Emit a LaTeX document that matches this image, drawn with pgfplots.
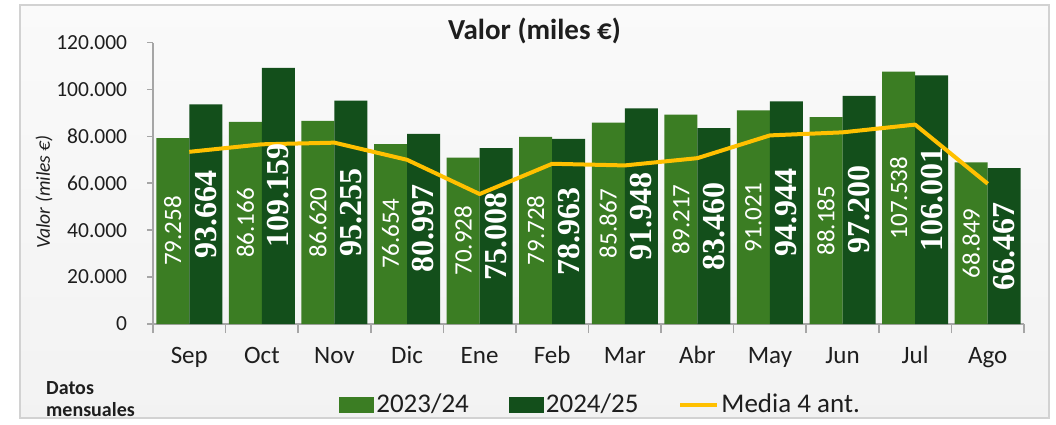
\documentclass[border=0pt]{standalone}
\usepackage{pgfplots}
\pgfplotsset{compat=1.18}
\usepackage{pgfplotstable}
\usepackage{fontspec}
\setmainfont{Carlito}
\newfontfamily\labserif{Liberation Serif}
\definecolor{lightg}{HTML}{3B7D23}
\definecolor{darkg}{HTML}{134F1B}
\definecolor{gold}{HTML}{FFC000}
\definecolor{axgray}{HTML}{A6A6A6}
\definecolor{txt}{HTML}{1E1E1E}

\pgfplotstableread{
x a b m la lb
0 79258 93664 73400 79.258 93.664
1 86166 109159 76600 86.166 109.159
2 86620 95255 77300 86.620 95.255
3 76654 80997 70000 76.654 80.997
4 70928 75008 55400 70.928 75.008
5 79728 78963 68300 79.728 78.963
6 85867 91948 67600 85.867 91.948
7 89217 83460 70700 89.217 83.460
8 91021 94944 80400 91.021 94.944
9 88185 97200 81700 88.185 97.200
10 107538 106001 85000 107.538 106.001
11 68849 66467 59800 68.849 66.467
}\data

\begin{document}
\begin{tikzpicture}
\fill[white] (0,0) rectangle (528pt,212pt);
\shade[top color=white!96!gray, bottom color=white!90!gray] (10pt,3pt) rectangle (524.5pt,209.5pt);
\draw[gray!35, line width=0.8pt] (10pt,3pt) rectangle (524.5pt,209.5pt);

\begin{axis}[
  at={(76.5pt,50pt)}, anchor=south west,
  scale only axis, width=435.5pt, height=140.75pt,
  xmin=-0.5, xmax=11.5, ymin=0, ymax=120000,
  axis lines=left,
  axis line style={-, draw=axgray, line width=0.9pt},
  tick align=outside,
  major tick length=4.5pt,
  tick style={draw=axgray, line width=0.8pt},
  xtick={-0.5,0.5,...,11.5},
  xticklabels={},
  extra x ticks={0,1,...,11},
  extra x tick labels={Sep,Oct,Nov,Dic,Ene,Feb,Mar,Abr,May,Jun,Jul,Ago},
  extra x tick style={major tick length=0pt, tick style={draw=none},
    xticklabel style={anchor=base, yshift=-19.5pt, font=\fontsize{12.5}{15}\selectfont, text=txt}},
  scaled y ticks=false,
  ytick=\empty,
  extra y ticks={0,20000,40000,60000,80000,100000,120000},
  extra y tick labels={0,20.000,40.000,60.000,80.000,100.000,120.000},
  extra y tick style={major tick length=3pt,
    yticklabel style={anchor=east, xshift=-6.4pt, font=\fontsize{10.75}{13}\selectfont, text=txt}},
  clip=false,
  legend style={at={(0.2135,-0.288)}, anchor=west, draw=none, fill=none, inner sep=0pt,
    font=\fontsize{13.5}{16}\selectfont, text=txt, legend columns=3,
    nodes={inner sep=1pt},
    /tikz/every even column/.append style={column sep=19pt}},
  legend cell align=left,
]
\addplot[ybar, bar width=0.455, bar shift=-0.2275, fill=lightg, draw=none,
  legend image code/.code={\fill[lightg] (0pt,-4pt) rectangle (17.5pt,4pt);}]
  table[x=x, y=a] {\data};
\addlegendentry{2023/24}
\addplot[ybar, bar width=0.455, bar shift=0.2275, fill=darkg, draw=none,
  legend image code/.code={\fill[darkg] (0pt,-4pt) rectangle (17.5pt,4pt);}]
  table[x=x, y=b] {\data};
\addlegendentry{2024/25}
\addplot[gold, line width=2pt, line join=round, mark=none,
  legend image code/.code={\draw[gold, line width=2pt] (0pt,0pt) -- (18.5pt,0pt);}]
  table[x=x, y=m] {\data};
\addlegendentry{Media 4 ant.}

\addplot[forget plot, draw=none, mark=none, nodes near coords, point meta=explicit symbolic,
  every node near coord/.append style={anchor=center, rotate=90, text=white,
    font=\fontsize{12.5}{14}\selectfont, inner sep=0pt}]
  table[x expr=\thisrow{x}-0.2275, y expr=\thisrow{a}/2, meta=la] {\data};
\addplot[forget plot, draw=none, mark=none, nodes near coords, point meta=explicit symbolic,
  every node near coord/.append style={anchor=center, rotate=90, text=white,
    font=\labserif\bfseries\fontsize{16}{18}\selectfont, inner sep=0pt}]
  table[x expr=\thisrow{x}+0.2275, y expr=\thisrow{b}/2, meta=lb] {\data};
\end{axis}

\node[anchor=base, font=\bfseries\fontsize{14.5}{17}\selectfont, text=txt, inner sep=0pt] at (267.25pt,192pt) {Valor (miles €)};
\node[rotate=90, font=\itshape\fontsize{9.8}{12}\selectfont, text=txt, inner sep=0pt] at (22pt,116pt) {Valor (miles €)};
\node[anchor=base west, font=\bfseries\fontsize{10}{12}\selectfont, text=txt, inner sep=0pt] at (22.9pt,15pt) {Datos};
\node[anchor=base west, font=\bfseries\fontsize{10}{12}\selectfont, text=txt, inner sep=0pt] at (22.9pt,4pt) {mensuales};
\end{tikzpicture}
\end{document}
